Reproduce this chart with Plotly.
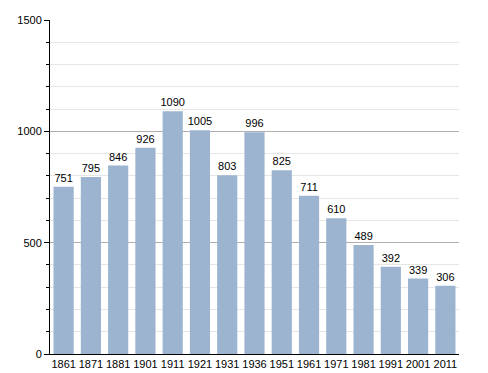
import plotly.graph_objects as go

years = ["1861", "1871", "1881", "1901", "1911", "1921", "1931", "1936", "1951", "1961", "1971", "1981", "1991", "2001", "2011"]
population = [751, 795, 846, 926, 1090, 1005, 803, 996, 825, 711, 610, 489, 392, 339, 306]
y_ticks = [0, 500, 1000, 1500]

fig = go.Figure(go.Bar(
    x=years, y=population,
    text=[str(v) for v in population], textposition="outside",
    constraintext="none",
    textfont=dict(size=11, color="black", family="Liberation Sans, Arial"),
    marker=dict(color="#9cb4d0", line=dict(width=0)),
    cliponaxis=False,
    hoverinfo="skip",
))

fig.update_layout(
    width=488, height=373,
    margin=dict(l=50, r=29, t=20, b=19),
    paper_bgcolor="white", plot_bgcolor="white",
    bargap=0.26,
    showlegend=False,
    font=dict(family="Liberation Sans, Arial", size=11, color="black"),
    xaxis=dict(
        type="category", showline=True, linecolor="black", linewidth=1,
        ticks="", showgrid=False, tickfont=dict(size=11), automargin=False,
    ),
    yaxis=dict(
        range=[0, 1500], tickvals=y_ticks, ticktext=[str(t) for t in y_ticks],
        showline=True, linecolor="black", linewidth=1,
        ticks="outside", ticklen=5, tickcolor="black",
        showgrid=True, gridcolor="#b0b0b0", gridwidth=1,
        zeroline=False, tickfont=dict(size=11), automargin=False,
        minor=dict(dtick=100, ticks="outside", ticklen=3, tickcolor="black",
                   showgrid=True, gridcolor="#e6e6e6", gridwidth=1),
    ),
)

fig.write_html("out.html", config={"displayModeBar": False},
               post_script="document.body.style.margin='0';document.body.style.overflow='hidden';")
